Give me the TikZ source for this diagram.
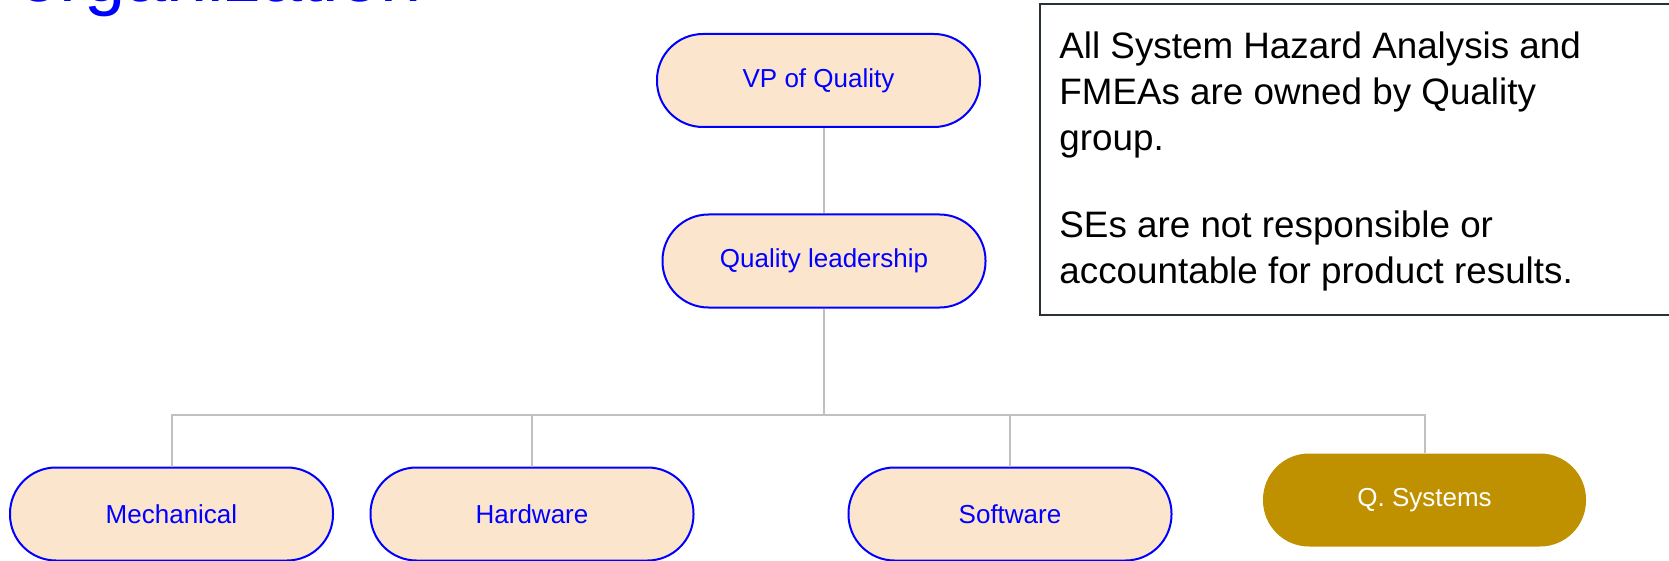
\documentclass[tikz,border=0pt]{standalone}
\usepackage{fontspec}
\setmainfont{Liberation Sans}
\definecolor{peach}{HTML}{FCE5CD}
\definecolor{qblue}{HTML}{0000FF}
\definecolor{gold}{HTML}{BF9000}
\definecolor{linkgray}{HTML}{C0C0C0}
\definecolor{slate}{HTML}{263238}

\begin{document}
\begin{tikzpicture}[x=0.5pt,y=-0.5pt]
\tikzset{unit/.style={draw=qblue, line width=1pt, fill=peach, text=qblue, rounded corners=23pt,
		minimum width=161.5pt, minimum height=46.5pt, font=\fontsize{13}{15}\selectfont},
	qsys/.style={unit, draw=none, fill=gold, text=white},
	link/.style={draw=linkgray, line width=1pt},
	note/.style={align=left, inner sep=0pt, font=\fontsize{18.4}{23}\selectfont}}
\useasboundingbox (0,0) rectangle (1669,561);
\clip (0,0) rectangle (1669,561);
				% title, mostly cut off at the top
				\node[anchor=base west, inner sep=0pt, text=qblue, font=\fontsize{37}{40}\selectfont] (title) at (18,1.5) {organization};
				% boxes
				\node[unit] (vp) at (818.5,80.5) {VP of Quality};
				\node[unit] (ql) at (824,261) {Quality leadership};
				\node[unit] (mech) at (171.5,514) {Mechanical};
				\node[unit] (hw) at (532,514) {Hardware};
				\node[unit] (sw) at (1010,514) {Software};
				\node[qsys] (qs) at (1424.5,500) {Q. Systems};
				\coordinate (bus) at (824,415);
				% links
				\draw[link] (ql.north) -- (ql.north |- vp.south);
				\foreach \k in {mech,hw,sw,qs}
					\draw[link] (ql.south) -- (bus) -| (\k.north);
				% side note
				\draw[line width=1pt, draw=slate] (1040,4) rectangle (1700,315);
				\node[note, anchor=north west] (note) at (1059,31) {All System Hazard Analysis and\\
					FMEAs are owned by Quality\\ group.\\[20.5pt]
					SEs are not responsible or\\ accountable for product results.};
\end{tikzpicture}
\end{document}
